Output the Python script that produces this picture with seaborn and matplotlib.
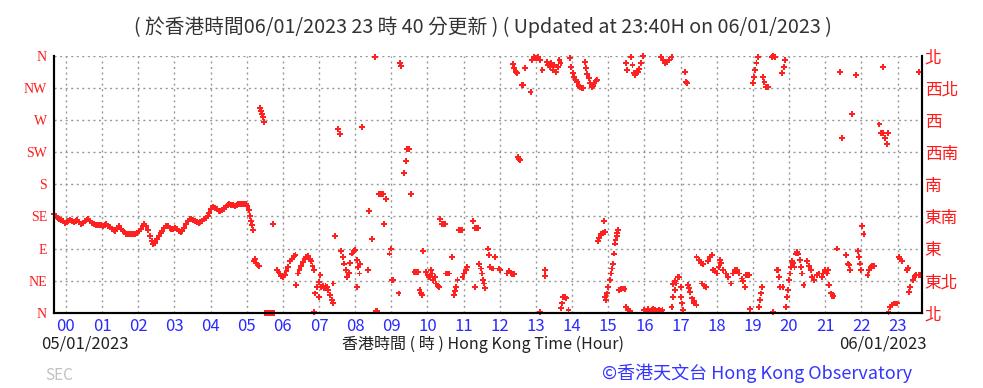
import numpy as np
import pandas as pd
import matplotlib
matplotlib.use('Agg')
import matplotlib.pyplot as plt
import seaborn as sns

# wind direction readings, hour of day vs degrees (0 = N, 360 = N)
# 00-05: steady south-easterly
hours_am = [-0.33, -0.28, -0.23, -0.18, -0.13, -0.08, -0.03, 0.02, 0.07, 0.12, 0.17, 0.22, 0.27, 0.32,
            0.37, 0.42, 0.47, 0.52, 0.57, 0.62, 0.67, 0.72, 0.77, 0.82, 0.87, 0.92, 0.97, 1.02, 1.07,
            1.12, 1.17, 1.22, 1.27, 1.32, 1.37, 1.42, 1.47, 1.52, 1.57, 1.62, 1.67, 1.72, 1.77, 1.82,
            1.87, 1.92, 1.97, 2.02, 2.07, 2.12, 2.17, 2.22, 2.27, 2.32, 2.37, 2.42, 2.47, 2.52, 2.57,
            2.62, 2.67, 2.72, 2.77, 2.82, 2.87, 2.92, 2.97, 3.02, 3.07, 3.12, 3.17, 3.22, 3.27, 3.32,
            3.37, 3.42, 3.47, 3.52, 3.57, 3.62, 3.67, 3.72, 3.77, 3.82, 3.87, 3.92, 3.97, 4.02, 4.07,
            4.12, 4.17, 4.22, 4.27, 4.32, 4.37, 4.42, 4.47, 4.52, 4.57, 4.62, 4.67, 4.72, 4.77, 4.82,
            4.87, 4.92, 4.97, 5.02, 5.06, 5.09, 5.12, 5.15, 5.18]
dirs_am = [138, 136, 133, 131, 130, 128, 126, 127, 129, 130, 128, 127, 129, 130,
           127, 125, 126, 128, 130, 131, 129, 126, 124, 123, 123, 123, 123, 122, 123,
           124, 122, 120, 118, 116, 115, 119, 121, 118, 115, 113, 111, 110, 110, 111,
           111, 111, 112, 114, 117, 121, 124, 122, 116, 108, 100, 96, 98, 103, 108,
           112, 115, 119, 122, 121, 119, 118, 118, 119, 117, 115, 113, 115, 119, 124,
           129, 131, 131, 130, 128, 127, 126, 127, 129, 131, 133, 136, 140, 146, 149,
           147, 145, 143, 143, 144, 146, 149, 151, 152, 151, 151, 150, 151, 152, 152,
           153, 153, 152, 150, 144, 136, 128, 123, 116]

# 05-12
hours_mid = [5.20, 5.23, 5.26, 5.30, 5.33, 5.37, 5.40, 5.42, 5.45, 5.48, 5.50, 5.55, 5.60, 5.65, 5.70, 5.75,
             5.73, 5.85, 5.88, 5.92, 5.96, 6.00, 6.05, 6.10, 6.15, 6.20, 6.25, 6.30, 6.35, 6.37,
             6.42, 6.46, 6.50, 6.55, 6.60, 6.65, 6.70, 6.74, 6.78, 6.82, 6.85, 6.86,
             6.90, 6.95, 7.00, 7.04, 7.06, 7.10, 7.14, 7.18, 7.22, 7.26, 7.30, 7.35, 7.38, 7.00, 7.40,
             7.45, 7.53, 7.57, 7.62, 7.66, 7.70, 7.74, 7.78, 7.82, 7.86, 7.90, 7.96, 8.00,
             8.04, 8.08, 8.12, 8.06, 8.14, 8.20, 8.35, 8.39, 8.47, 8.56, 8.58, 8.60,
             8.67, 8.72, 8.76, 8.80, 8.85, 8.95, 8.98, 9.02, 9.06, 9.20, 9.24, 9.28,
             9.36, 9.40, 9.44, 9.48, 9.55, 9.64, 9.68, 9.73, 9.78, 9.82, 9.86, 9.88,
             9.96, 10.00, 10.04, 10.08, 10.12, 10.16, 10.20, 10.24, 10.28, 10.32, 10.10,
             10.35, 10.40, 10.44, 10.48, 10.52, 10.56, 10.60, 10.68, 10.74, 10.77, 10.80, 10.83,
             10.86, 10.90, 10.95, 10.97, 11.02, 11.06, 11.10, 11.25, 11.30, 11.35, 11.40, 11.32,
             11.43, 11.47, 11.50, 11.53, 11.56, 11.60, 11.67, 11.70, 11.74, 11.78, 11.82, 11.87,
             11.98, 12.00]
dirs_mid = [72, 75, 70, 67, 65, 287, 283, 279, 274, 268, 0, 0, 0, 0, 0, 0,
            124, 60, 57, 55, 52, 50, 53, 58, 64, 72, 76, 79, 81, 39,
            55, 60, 65, 71, 75, 78, 80, 76, 72, 65, 60, 1,
            27, 36, 43, 53, 36, 37, 34, 37, 36, 32, 25, 18, 13, 22, 41,
            107, 257, 251, 87, 78, 69, 60, 50, 56, 70, 83, 86, 88,
            74, 64, 55, 36, 69, 260, 60, 143, 104, 359, 3, 3,
            166, 166, 166, 124, 159, 83, 90, 46, 46, 27, 350, 346,
            196, 213, 229, 229, 166, 57, 57, 57, 32, 27, 25, 87,
            57, 53, 50, 52, 55, 46, 50, 41, 38, 36, 60,
            132, 125, 125, 125, 55, 55, 55, 78, 25, 30, 36, 46,
            116, 116, 116, 50, 55, 60, 64, 128, 119, 119, 119, 36,
            68, 62, 55, 46, 41, 34, 90, 81, 64, 62, 62, 78,
            62, 60]

# 12-18
hours_pm = [12.20, 12.26, 12.30, 12.35, 12.40, 12.37, 12.40, 12.44, 12.47, 12.51, 12.54, 12.56,
            12.60, 12.64, 12.70, 12.85, 12.90, 12.95, 13.00, 13.05, 13.10, 13.11, 13.18, 13.25, 13.25,
            13.30, 13.34, 13.38, 13.42, 13.46, 13.50, 13.55, 13.60, 13.65, 13.68, 13.69, 13.72,
            13.76, 13.80, 13.84, 13.90, 13.94, 13.98, 14.02, 14.06, 14.10, 14.14, 14.18, 14.22,
            14.26, 14.30, 14.35, 14.38, 14.42, 14.46, 14.50, 14.54, 14.58, 14.62, 14.66, 14.70,
            14.72, 14.75, 14.80, 14.85, 14.88, 14.92, 14.90, 14.94, 14.97, 15.00, 15.04, 15.08,
            15.10, 15.13, 15.16, 15.18, 15.20, 15.23, 15.25, 15.27, 15.30, 15.35, 15.40, 15.45,
            15.49, 15.52, 15.50, 15.55, 15.60, 15.64, 15.67, 15.70, 15.74, 15.78, 15.82, 15.86,
            15.90, 15.96, 16.00, 16.05, 16.10, 16.15, 16.20, 16.25, 16.30, 16.35, 16.40, 16.45,
            16.50, 16.47, 16.52, 16.57, 16.62, 16.68, 16.75, 16.75, 16.80, 16.84, 16.88, 16.92,
            16.96, 16.80, 16.85, 17.00, 17.02, 17.05, 17.07, 17.12, 17.15, 17.18, 17.20, 17.26,
            17.32, 17.38, 17.44, 17.24, 17.36, 17.44, 17.50, 17.56, 17.62, 17.60, 17.66, 17.70,
            17.76, 17.82, 17.88, 17.90, 17.95, 18.00, 18.05, 18.10, 18.13, 18.17, 18.25, 18.32,
            18.40, 18.45, 18.50, 18.56, 18.62, 18.70, 18.73, 18.77]
dirs_pm = [55, 58, 56, 54, 54, 349, 343, 338, 336, 219, 216, 214,
           319, 319, 343, 309, 355, 359, 357, 359, 354, 1, 340, 60, 51,
           352, 347, 345, 350, 340, 347, 338, 344, 354, 350, 6, 13,
           22, 22, 20, 4, 357, 345, 336, 331, 327, 323, 318, 316,
           315, 315, 352, 343, 335, 329, 322, 317, 318, 322, 325, 327,
           100, 105, 111, 112, 128, 113, 22, 18, 27, 36, 46, 55,
           62, 69, 83, 97, 102, 107, 112, 116, 32, 33, 34, 33,
           350, 340, 8, 4, 2, 359, 347, 336, 333, 336, 338, 342,
           350, 360, 4, 3, 5, 3, 4, 5, 4, 3, 4, 3,
           4, 359, 354, 350, 352, 355, 359, 8, 22, 32, 41, 50,
           50, 40, 45, 36, 22, 13, 4, 338, 324, 322, 39, 29,
           20, 13, 11, 34, 17, 78, 74, 70, 68, 41, 38, 36,
           72, 78, 81, 60, 58, 55, 64, 74, 70, 60, 55, 50,
           41, 55, 60, 60, 55, 48, 44, 36]

# 18-24
hours_eve = [18.80, 18.85, 18.90, 18.93, 19.00, 19.03, 19.07, 19.10, 19.14, 19.16, 19.19, 19.22, 19.25,
             19.28, 19.32, 19.36, 19.42, 19.52, 19.56, 19.60, 19.55, 19.66, 19.70, 19.72, 19.76,
             19.82, 19.80, 19.86, 19.90, 19.92, 19.95, 19.98, 20.00, 20.02, 20.05, 20.08, 20.12,
             20.15, 20.18, 20.22, 20.26, 20.30, 20.34, 20.37, 20.40, 20.50, 20.55, 20.60, 20.64,
             20.68, 20.78, 20.84, 20.90, 20.95, 21.00, 21.05, 21.08, 21.10, 21.15, 21.20, 21.23,
             21.32, 21.41, 21.46, 21.58, 21.62, 21.66, 21.69, 21.73, 21.85, 21.90, 21.93, 21.96,
             22.00, 22.02, 22.06, 22.17, 22.22, 22.26, 22.30, 22.35, 22.50, 22.55, 22.60, 22.65,
             22.70, 22.73, 22.60, 22.75, 22.80, 22.85, 22.90, 22.95, 22.98, 23.03, 23.08, 23.12,
             23.25, 23.28, 23.32, 23.35, 23.42, 23.47, 23.52, 23.58, 23.63, 23.60]
dirs_eve = [53, 53, 53, 5, 322, 331, 340, 350, 359, 8, 18, 27, 36,
            330, 324, 317, 317, 359, 360, 359, 1, 60, 60, 50, 36,
            36, 336, 345, 354, 8, 22, 32, 46, 55, 64, 72, 70,
            64, 83, 85, 83, 74, 64, 55, 39, 72, 65, 60, 50,
            46, 53, 55, 50, 55, 60, 55, 60, 39, 27, 24, 23,
            90, 337, 245, 81, 69, 67, 60, 279, 333, 86, 78, 69,
            60, 121, 110, 53, 60, 64, 65, 65, 264, 252, 252, 245,
            237, 252, 344, 1, 8, 11, 13, 13, 13, 78, 75, 73,
            60, 63, 29, 36, 46, 51, 53, 53, 53, 338]

hour_ticks = list(range(24))
hour_labels = ['%02d' % h for h in hour_ticks]
half_hour_ticks = [h + 0.5 for h in range(24)]
dir_ticks = [0, 45, 90, 135, 180, 225, 270, 315, 360]
dir_labels_en = ['N', 'NE', 'E', 'SE', 'S', 'SW', 'W', 'NW', 'N']
dir_labels_zh = ['北', '東北', '東', '東南', '南', '西南', '西', '西北', '北']

df = pd.DataFrame({
    'hour': hours_am + hours_mid + hours_pm + hours_eve,
    'direction': dirs_am + dirs_mid + dirs_pm + dirs_eve,
})

sns.set_style('white')
plt.rcParams['font.family'] = ['Noto Sans CJK TC', 'DejaVu Sans']

fig = plt.figure(figsize=(9.83, 3.88), dpi=100)
ax = fig.add_axes([0.0549, 0.194, 0.8828, 0.6617])

sns.scatterplot(data=df, x='hour', y='direction', ax=ax, color='#ff2020',
                marker='P', s=18, edgecolor='none', clip_on=False, zorder=3)

ax.set_xlim(-0.33, 23.67)
ax.set_ylim(0, 360)
ax.set_xticks(hour_ticks)
ax.set_xticklabels(hour_labels, color='#2a2aff', fontsize=12)
ax.set_xticks(half_hour_ticks[:-1], minor=True)
ax.set_yticks(dir_ticks)
ax.set_yticklabels(dir_labels_en, color='#ff1a1a', fontsize=10, family='Liberation Serif')
ax.tick_params(axis='both', which='major', length=0)
ax.tick_params(axis='x', which='minor', direction='in', length=3, width=1, color='black')
ax.tick_params(axis='x', pad=4)
ax.tick_params(axis='y', pad=5)
ax.set_xlabel('')
ax.set_ylabel('')
ax.grid(True, which='major', color='#999999', linestyle=(0, (1.5, 2.5)), linewidth=1)

ax2 = ax.twinx()
ax2.set_ylim(0, 360)
ax2.set_yticks(dir_ticks)
ax2.set_yticklabels(dir_labels_zh, color='#ff1a1a', fontsize=12, family='Noto Sans CJK TC')
ax2.tick_params(axis='y', length=0, pad=2)

for a in (ax, ax2):
    a.spines['top'].set_visible(False)
    for side in ('left', 'right', 'bottom'):
        a.spines[side].set_color('black')
        a.spines[side].set_linewidth(1.5)

fig.text(0.491, 0.930, '( 於香港時間06/01/2023 23 時 40 分更新 ) ( Updated at 23:40H on 06/01/2023 )',
         ha='center', va='center', fontsize=14.2, color='#333333')
fig.text(0.042, 0.113, '05/01/2023', ha='left', va='center', fontsize=12, color='#222222')
fig.text(0.491, 0.113, '香港時間 ( 時 ) Hong Kong Time (Hour)', ha='center', va='center',
         fontsize=11.5, color='#222222')
fig.text(0.943, 0.113, '06/01/2023', ha='right', va='center', fontsize=12, color='#222222')
fig.text(0.046, 0.031, 'SEC', ha='left', va='center', fontsize=11, color='#c0c0c0')
fig.text(0.928, 0.039, '©香港天文台 Hong Kong Observatory', ha='right', va='center',
         fontsize=13, color='#3535ff')

fig.savefig('out.png', dpi=100)
